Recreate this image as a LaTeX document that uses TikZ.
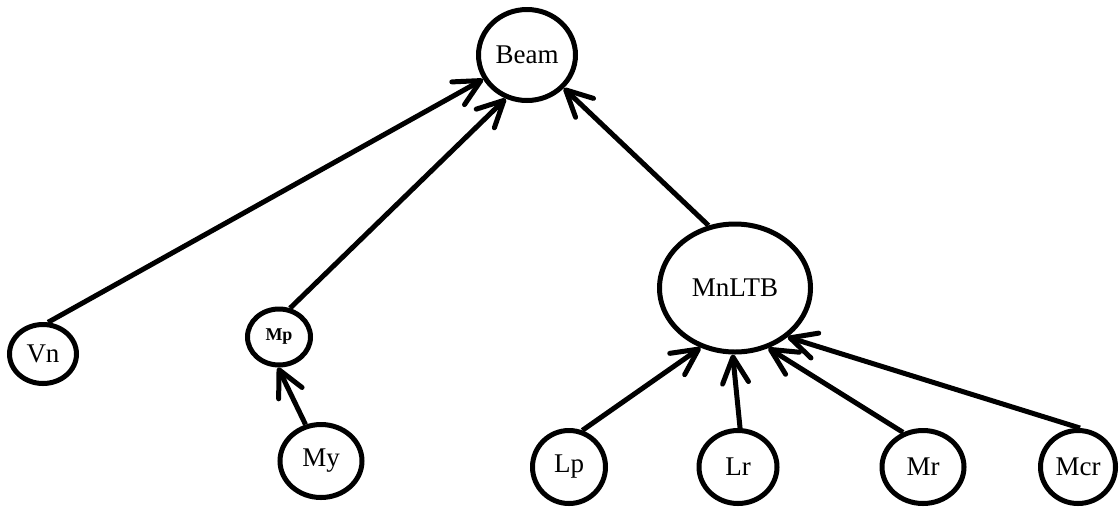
\documentclass[tikz,border=0pt]{standalone}
\usepackage{fontspec}
\setmainfont{Liberation Serif}
\usetikzlibrary{shapes.geometric,arrows.meta}
\tikzset{
  var/.style={draw, ellipse, line width=5pt, inner sep=0pt,
    font=\fontsize{27}{30}\selectfont},
  arr/.style={line width=5pt, -{Straight Barb[length=26pt,width=26pt,round]}},
}
\begin{document}
\begin{tikzpicture}[x=1pt,y=-1pt]
\useasboundingbox (0,0) rectangle (1119,507);
% variables
\node[var, minimum width=97pt, minimum height=91pt] (Beam) at (527,55) {Beam};
\node[var, minimum width=151pt, minimum height=128pt] (MnLTB) at (735,288) {MnLTB};
\node[var, minimum width=67pt, minimum height=59pt] (Vn) at (43,354) {Vn};
\node[var, minimum width=63pt, minimum height=56pt,
  font=\fontsize{18}{20}\selectfont\bfseries] (Mp) at (279,337) {Mp};
\node[var, minimum width=82pt, minimum height=73pt] (My) at (321,461) {My};
\node[var, minimum width=73pt, minimum height=73pt] (Lp) at (569,467) {Lp};
\node[var, minimum width=78pt, minimum height=73pt] (Lr) at (738,467) {Lr};
\node[var, minimum width=82pt, minimum height=73pt] (Mr) at (923,467) {Mr};
\node[var, minimum width=75pt, minimum height=73pt] (Mcr) at (1078,467) {Mcr};
% influences
\draw[arr] (Vn.81) -- (Beam.209);
\draw[arr] (Mp.69) -- (Beam.244);
\draw[arr] (MnLTB.113) -- (Beam.318);
\draw[arr] (My.113) -- (Mp.268);
\draw[arr] (Lp.70) -- (MnLTB.240);
\draw[arr] (Lr.87) -- (MnLTB.268);
\draw[arr] (Mr.120) -- (MnLTB.299);
\draw[arr] (Mcr.87) -- (MnLTB.317);
\end{tikzpicture}
\end{document}
